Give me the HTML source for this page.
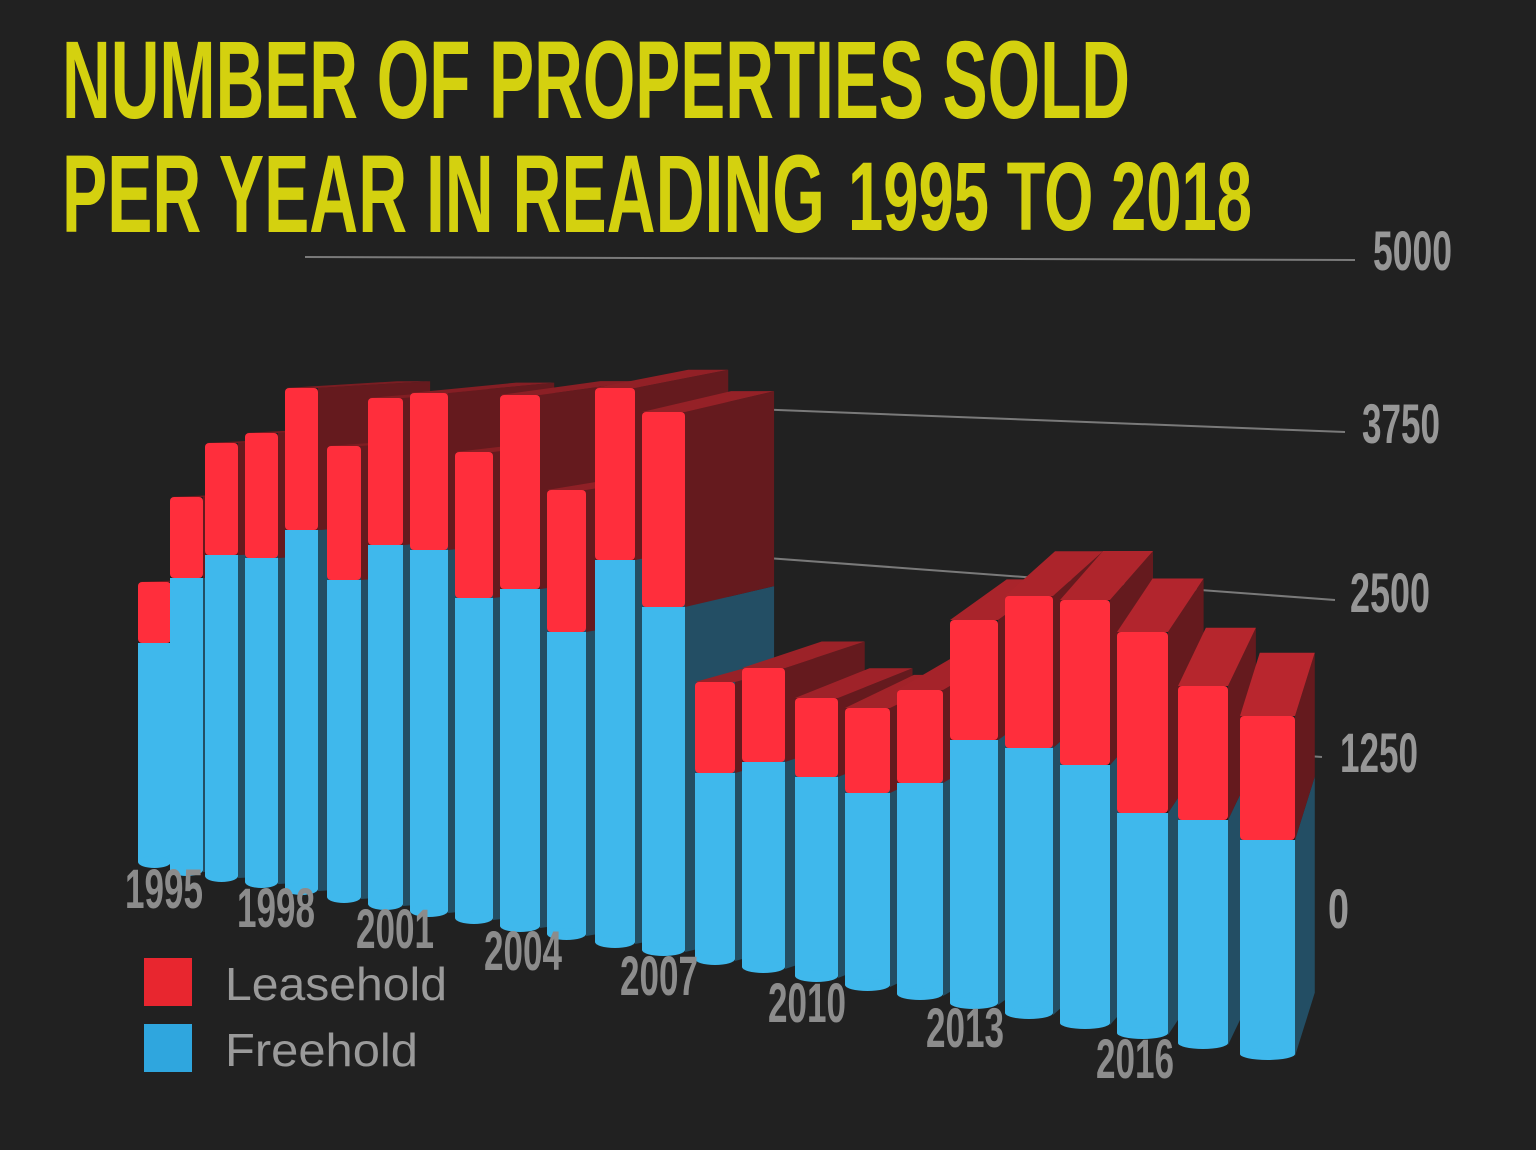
<!DOCTYPE html>
<html><head><meta charset="utf-8"><style>
html,body{margin:0;padding:0;background:#212121;}
svg{display:block;}
</style></head><body>
<svg id="s" width="1536" height="1150" viewBox="0 0 1536 1150" xmlns="http://www.w3.org/2000/svg">
<rect width="1536" height="1150" fill="#212121"/>
<g font-family="Liberation Sans, sans-serif" font-weight="bold" fill="#d4d10f">
<text x="62" y="118" font-size="110" textLength="1068" lengthAdjust="spacingAndGlyphs">NUMBER OF PROPERTIES SOLD</text>
<text x="62" y="232" font-size="110" textLength="763" lengthAdjust="spacingAndGlyphs">PER YEAR IN READING</text>
<text x="848" y="230" font-size="97" textLength="404" lengthAdjust="spacingAndGlyphs">1995 TO 2018</text>
</g>
<g stroke="#7a7a7a" stroke-width="2">
<line x1="305" y1="257" x2="1355" y2="260"/>
<line x1="700" y1="407" x2="1345" y2="432"/>
<line x1="700" y1="553" x2="1335" y2="600"/>
<line x1="1250" y1="752" x2="1322" y2="757"/>
<line x1="1240" y1="908" x2="1312" y2="913"/>
</g>
<g id="bars"></g>
<g font-family="Liberation Sans, sans-serif" font-weight="bold" fill="#979797" font-size="56">
<text x="1373" y="270" textLength="79" lengthAdjust="spacingAndGlyphs">5000</text>
<text x="1362" y="443" textLength="78" lengthAdjust="spacingAndGlyphs">3750</text>
<text x="1350" y="612" textLength="80" lengthAdjust="spacingAndGlyphs">2500</text>
<text x="1340" y="772" textLength="78" lengthAdjust="spacingAndGlyphs">1250</text>
<text x="1328" y="928" textLength="21" lengthAdjust="spacingAndGlyphs">0</text>
</g>
<g font-family="Liberation Sans, sans-serif" font-weight="bold" fill="#8c8c8c" font-size="56">
<text x="125" y="908" textLength="78" lengthAdjust="spacingAndGlyphs">1995</text>
<text x="237" y="927" textLength="78" lengthAdjust="spacingAndGlyphs">1998</text>
<text x="356" y="948" textLength="78" lengthAdjust="spacingAndGlyphs">2001</text>
<text x="484" y="970" textLength="78" lengthAdjust="spacingAndGlyphs">2004</text>
<text x="620" y="995" textLength="78" lengthAdjust="spacingAndGlyphs">2007</text>
<text x="768" y="1022" textLength="78" lengthAdjust="spacingAndGlyphs">2010</text>
<text x="926" y="1047" textLength="78" lengthAdjust="spacingAndGlyphs">2013</text>
<text x="1096" y="1078" textLength="78" lengthAdjust="spacingAndGlyphs">2016</text>
</g>
<rect x="144" y="958" width="48" height="48" fill="#e8262f"/>
<rect x="144" y="1024" width="48" height="48" fill="#2fa6de"/>
<g font-family="Liberation Sans, sans-serif" fill="#9a9a9a" font-size="46">
<text x="225" y="1000" textLength="222" lengthAdjust="spacingAndGlyphs">Leasehold</text>
<text x="225" y="1066" textLength="193" lengthAdjust="spacingAndGlyphs">Freehold</text>
</g>
</svg>
<script>
var d=[[138,178,868,643,582],[170,210,876,578,497],[205,245,882,555,443],[245,285,888,558,433],[285,325,895,530,388],[327,368,903,580,446],[368,410,910,545,398],[410,455,917,550,393],[455,500,924,598,452],[500,547,932,589,395],[547,593,940,632,490],[595,642,948,560,388],[642,692,956,607,412],[695,742,965,773,682],[742,792,973,762,668],[795,845,982,777,698],[845,897,991,793,708],[897,950,1000,783,690],[950,1005,1009,740,620],[1005,1060,1019,748,596],[1060,1117,1029,765,600],[1117,1175,1039,813,632],[1178,1235,1049,820,686],[1240,1295,1060,840,716]];
var g=document.getElementById('bars'),h='';
function p(pts,c){return '<polygon points="'+pts.map(function(q){return q.join(',')}).join(' ')+'" fill="'+c+'"/>';}
function lerp(a,b,t){return Math.round(a+(b-a)*t);}
d.forEach(function(b,i){
 var L=b[0],R=b[1]-(i<23?7:0),Y=b[2],B=b[3],T=b[4];
 var dx=115-0.18*i*i, dy=-5-0.11*i*i;
 var t=i/23;
 var top='rgb('+lerp(110,185,t)+','+lerp(27,38,t)+','+lerp(31,46,t)+')';
 h+=p([[R,Y-4],[R+dx,Y+dy-4],[R+dx,B+dy],[R,B]],'#234e64');
 h+=p([[R,B],[R+dx,B+dy],[R+dx,T+dy],[R,T]],'#651a1e');
 h+=p([[L,T],[R,T],[R+dx,T+dy],[L+dx,T+dy]],top);
 h+='<rect x="'+L+'" y="'+B+'" width="'+(R-L)+'" height="'+(Y-B-6)+'" fill="#3fb8ec"/>';
 h+='<ellipse cx="'+((L+R)/2)+'" cy="'+(Y-6)+'" rx="'+((R-L)/2)+'" ry="6" fill="#3fb8ec"/>';
 h+='<rect x="'+L+'" y="'+T+'" width="'+(R-L)+'" height="'+(B-T)+'" rx="4" fill="#ff2e3c"/>';
});
g.innerHTML=h;
</script>
</body></html>
